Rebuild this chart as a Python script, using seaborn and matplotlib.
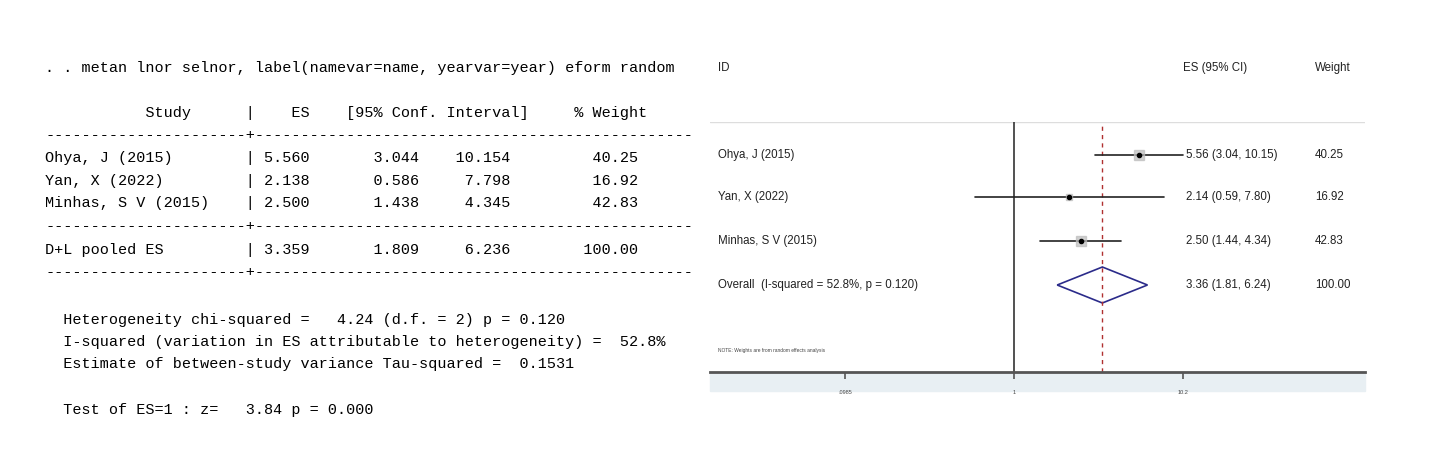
import matplotlib
matplotlib.use("Agg")
import matplotlib.pyplot as plt
import seaborn as sns
from matplotlib.patches import Polygon, Rectangle

# Study data (metan output)
studies = ["Ohya, J (2015)", "Yan, X (2022)", "Minhas, S V (2015)"]
es = [5.560, 2.138, 2.500]
lo = [3.044, 0.586, 1.438]
hi = [10.154, 7.798, 4.345]
weight = [40.25, 16.92, 42.83]
pooled = (3.359, 1.809, 6.236, 100.00)
i2, p_het = 52.8, 0.120
xticks = [0.0985, 1, 10.2]
xtick_labels = [".0985", "1", "10.2"]

sns.set_theme(style="white")
plt.rcParams["font.family"] = ["Liberation Sans", "DejaVu Sans"]

W, H = 1429, 449
fig = plt.figure(figsize=(W / 100, H / 100), dpi=100, facecolor="white")

# ---- left: Stata text output ----
mono = dict(family="Liberation Mono", fontsize=10.9, color="black", va="center")
def ftext(px, py, s, **kw):
    fig.text(px / W, 1 - py / H, s, **kw)

dash = "-" * 22 + "+" + "-" * 48
lines = [
    (68, ". . metan lnor selnor, label(namevar=name, yearvar=year) eform random"),
    (113, " " * 11 + "Study" + " " * 6 + "|" + " " * 4 + "ES" + " " * 4 + "[95% Conf. Interval]" + " " * 5 + "% Weight"),
    (135, dash),
]
for k, y in enumerate([158, 181, 203]):
    lines.append((y, f"{studies[k]:<22}| {es[k]:.3f}{lo[k]:>12.3f}{hi[k]:>10.3f}{weight[k]:>14.2f}"))
lines.append((226, dash))
lines.append((250, f"{'D+L pooled ES':<22}| {pooled[0]:.3f}{pooled[1]:>12.3f}{pooled[2]:>10.3f}{pooled[3]:>14.2f}"))
lines.append((272, dash))
lines += [
    (320, "  Heterogeneity chi-squared =   4.24 (d.f. = 2) p = 0.120"),
    (342, f"  I-squared (variation in ES attributable to heterogeneity) =  {i2:.1f}%"),
    (364, "  Estimate of between-study variance Tau-squared =  0.1531"),
    (410, "  Test of ES=1 : z=   3.84 p = 0.000"),
]
for y, s in lines:
    ftext(45, y, s, **mono)

# ---- right: forest plot ----
x0, x1, ytop, ybot = 710, 1365, 122, 372
ax = fig.add_axes([x0 / W, 1 - ybot / H, (x1 - x0) / W, (ybot - ytop) / H])
ax.set_xscale("log")
ax.set_xlim(0.0155, 123)
ax.set_ylim(ybot, ytop)
for s in ["top", "left", "right"]:
    ax.spines[s].set_visible(False)
ax.spines["bottom"].set_color("#555555")
ax.spines["bottom"].set_linewidth(2)
ax.set_yticks([])
ax.set_xticks(xticks)
ax.set_xticklabels(xtick_labels, fontsize=4, color="#444444")
ax.minorticks_off()
ax.tick_params(axis="x", length=5, width=1.2, color="#555555", bottom=True, pad=8)

# band behind tick labels
fig.patches.append(Rectangle((x0 / W, 1 - 391 / H), (x1 - x0) / W, 19 / H,
                             transform=fig.transFigure, color="#e8eff3", zorder=-1))
# top line
ax.axhline(ytop, color="#dddddd", lw=1)
ax.axvline(1, color="#333333", lw=1.2)
ax.axvline(pooled[0], color="#b03030", lw=1, ls=(0, (3, 3)))

xid, xes, xw = 0.0172, 10.6, 62
rows_y = [155, 197, 241]
tx = dict(fontsize=8.3, color="#222222", va="center")
for k, y in enumerate(rows_y):
    ax.plot([lo[k], hi[k]], [y, y], color="#222222", lw=1.2)
    ax.plot(es[k], y, marker="s", ms=3 + weight[k] / 10, color="#bbbbbb", alpha=0.7)
    ax.plot(es[k], y, marker="o", ms=3, color="black")
    ax.text(xid, y, studies[k], **tx)
    ax.text(xes, y, f"{es[k]:.2f} ({lo[k]:.2f}, {hi[k]:.2f})", **tx)
    ax.text(xw, y, f"{weight[k]:.2f}", **tx)

yo = 285
ax.add_patch(Polygon([(pooled[1], yo), (pooled[0], yo - 18), (pooled[2], yo), (pooled[0], yo + 18)],
                     closed=True, fill=False, ec="#2b2b8a", lw=1.2))
ax.text(xid, yo, f"Overall  (I-squared = {i2:.1f}%, p = {p_het:.3f})", **tx)
ax.text(xes, yo, f"{pooled[0]:.2f} ({pooled[1]:.2f}, {pooled[2]:.2f})", **tx)
ax.text(xw, yo, f"{pooled[3]:.2f}", **tx)
ax.text(xid, 350, "NOTE: Weights are from random effects analysis", fontsize=3.5, color="#444444", va="center")

for s, xx in [("ID", xid), ("ES (95% CI)", 10.2), ("Weight", xw)]:
    ax.text(xx, 68, s, fontsize=8.3, color="#222222", va="center")
for t in ax.texts:
    t.set_clip_on(False)

fig.savefig("out.png", dpi=100, facecolor="white")
